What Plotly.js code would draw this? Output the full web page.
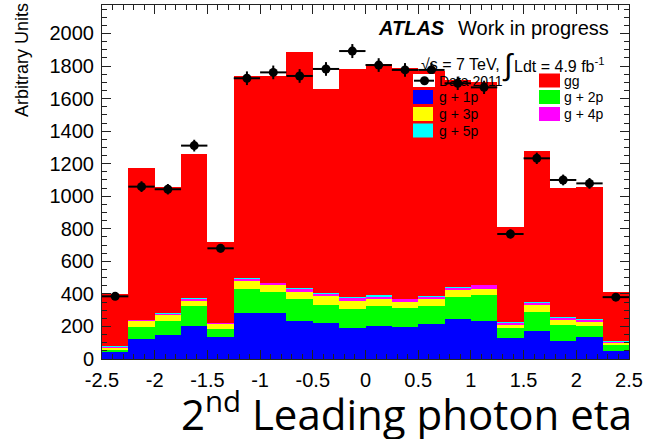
<!DOCTYPE html>
<html>
<head>
<meta charset="utf-8">
<script src="https://cdn.plot.ly/plotly-3.0.1.min.js"></script>
<style>html,body{margin:0;padding:0;background:#fff;}</style>
</head>
<body>
<div id="chart" style="width:654px;height:439px;"></div>
<script>
// eta bins (width 0.25) from -2.5 to 2.5
const binCenters = [-2.375, -2.125, -1.875, -1.625, -1.375, -1.125, -0.875, -0.625, -0.375, -0.125,
                     0.125,  0.375,  0.625,  0.875,  1.125,  1.375,  1.625,  1.875,  2.125,  2.375];

// stacked templates (bottom to top)
const g1p = [40, 121, 147, 205, 133, 285, 285, 233, 219, 192, 205, 199, 213, 246, 233, 127, 174, 111, 133, 51];
const g2p = [15, 78, 86, 123, 51, 143, 127, 136, 113, 113, 121, 112, 113, 137, 160, 61, 117, 98, 70, 35];
const g3p = [12, 34, 37, 28, 29, 53, 43, 45, 55, 53, 43, 41, 43, 41, 37, 21, 41, 31, 26, 14];
const g4p = [8, 5, 8, 15, 6, 12, 10, 14, 10, 15, 14, 15, 14, 14, 25, 14, 14, 10, 11, 6];
const g5p = [2, 2, 4, 6, 2, 3, 4, 6, 7, 6, 10, 4, 2, 6, 2, 3, 2, 6, 4, 2];
const gg  = [323, 932, 775, 881, 500, 1243, 1270, 1454, 1253, 1401, 1417, 1414, 1385, 1271, 1243, 587, 930, 794, 811, 302];

// data 2011
const dataVals = [385, 1059, 1043, 1311, 680, 1725, 1761, 1739, 1782, 1892,
                  1806, 1776, 1776, 1694, 1669, 768, 1233, 1100, 1079, 380];
const dataErr  = [20, 33, 32, 36, 26, 42, 42, 42, 42, 43,
                  42, 42, 42, 41, 41, 28, 35, 33, 33, 20];

const xTickVals = [-2.5, -2, -1.5, -1, -0.5, 0, 0.5, 1, 1.5, 2, 2.5];
const xTickText = ['-2.5', '-2', '-1.5', '-1', '-0.5', '0', '0.5', '1', '1.5', '2', '2.5'];
const yTickVals = [0, 200, 400, 600, 800, 1000, 1200, 1400, 1600, 1800, 2000];

const stackNames  = ['g + 1p', 'g + 2p', 'g + 3p', 'g + 4p', 'g + 5p', 'gg'];
const stackValues = [g1p, g2p, g3p, g4p, g5p, gg];
const stackColors = ['#0000ff', '#00ff00', '#ffff00', '#ff00ff', '#00ffff', '#ff0000'];

const FONT = 'Liberation Sans, Arial, sans-serif';

const traces = stackValues.map((vals, i) => ({
  type: 'bar',
  name: stackNames[i],
  x: binCenters,
  y: vals,
  width: 0.25,
  marker: {color: stackColors[i], line: {width: 0}},
  hoverinfo: 'skip'
}));

traces.push({
  type: 'scatter',
  mode: 'markers',
  name: 'Data 2011',
  x: binCenters,
  y: dataVals,
  marker: {color: '#000', size: 9, symbol: 'circle'},
  error_x: {type: 'constant', value: 0.125, width: 0, thickness: 2, color: '#000'},
  error_y: {type: 'data', array: dataErr, width: 0, thickness: 2, color: '#000'},
  hoverinfo: 'skip'
});

// plot frame in pixels
const L = 102, R = 629, T = 5, B = 359;
const px = x => (x - L) / (R - L);
const py = y => (B - y) / (B - T);

const shapes = [];
const annotations = [];

function box(x0, y0, x1, y1, color) {
  shapes.push({type: 'rect', xref: 'paper', yref: 'paper',
    x0: px(x0), x1: px(x1), y0: py(y1), y1: py(y0),
    fillcolor: color, line: {width: 0}});
}
function label(x, y, text, size, extra) {
  annotations.push(Object.assign({
    xref: 'paper', yref: 'paper', x: px(x), y: py(y),
    xanchor: 'left', yanchor: 'middle', showarrow: false,
    text: text, font: {family: FONT, size: size, color: '#000'}
  }, extra || {}));
}

// legend, column 1
box(413, 74, 435, 87, '#ffffff');
shapes.push({type: 'line', xref: 'paper', yref: 'paper',
  x0: px(414), x1: px(434), y0: py(80.7), y1: py(80.7), line: {color: '#000', width: 2}});
shapes.push({type: 'circle', xref: 'paper', yref: 'paper',
  x0: px(420), x1: px(429), y0: py(85.2), y1: py(76.2), fillcolor: '#000', line: {width: 0}});
label(437, 80.7, 'Data 2011', 14);
box(413, 90, 433, 104, stackColors[0]);  label(437, 97.3, stackNames[0], 14);
box(413, 107, 433, 121, stackColors[2]); label(437, 114, stackNames[2], 14);
box(413, 123.5, 433, 137.5, stackColors[4]); label(437, 130.7, stackNames[4], 14);
// legend, column 2
box(539, 73.5, 560, 87.5, stackColors[5]); label(562, 80.7, stackNames[5], 14);
box(539, 90, 560, 104, stackColors[1]); label(562, 97.3, stackNames[1], 14);
box(539, 107, 560, 121, stackColors[3]); label(562, 114, stackNames[3], 14);

// header text
label(376, 28.5, '<b><i>ATLAS</i></b>', 20);
label(456, 28.5, 'Work in progress', 20);
label(419, 64.5, '√s = 7 TeV,', 16);
label(500, 65, '∫', 30);
label(512, 64.5, 'Ldt = 4.9 fb<sup>-1</sup>', 16);

// axis titles
annotations.push({xref: 'paper', yref: 'paper', x: px(22), y: py(60),
  xanchor: 'center', yanchor: 'middle', textangle: -90, showarrow: false,
  text: 'Arbitrary Units', font: {family: FONT, size: 18, color: '#000'}});
annotations.push({xref: 'paper', yref: 'paper', x: px(634), y: py(412),
  xanchor: 'right', yanchor: 'middle', showarrow: false,
  text: '2<sup>nd</sup> Leading photon eta', font: {family: 'Open Sans, Lato, sans-serif', size: 42, color: '#000'}});

const axisCommon = {
  showline: true, mirror: 'ticks', linecolor: '#222', linewidth: 1,
  ticks: 'inside', tickcolor: '#222', tickwidth: 1, ticklen: 9,
  showgrid: false, zeroline: false, fixedrange: true,
  tickfont: {family: FONT, size: 20, color: '#000'}
};

const layout = {
  width: 654, height: 439,
  margin: {l: L, r: 654 - R, t: T, b: 439 - B, pad: 0},
  paper_bgcolor: '#fff', plot_bgcolor: '#fff',
  barmode: 'stack', bargap: 0,
  showlegend: false,
  xaxis: Object.assign({}, axisCommon, {
    range: [-2.5, 2.5], tickmode: 'array', tickvals: xTickVals, ticktext: xTickText,
    ticklabelstandoff: 3,
    minor: {dtick: 0.1, ticks: 'inside', ticklen: 5, tickcolor: '#222', tickwidth: 1, showgrid: false}
  }),
  yaxis: Object.assign({}, axisCommon, {
    range: [0, 2175], tickmode: 'array', tickvals: yTickVals,
    ticklabelstandoff: 3,
    minor: {dtick: 50, ticks: 'inside', ticklen: 5, tickcolor: '#222', tickwidth: 1, showgrid: false}
  }),
  shapes: shapes,
  annotations: annotations
};

Plotly.newPlot('chart', traces, layout, {staticPlot: true, displayModeBar: false});
</script>
</body>
</html>
